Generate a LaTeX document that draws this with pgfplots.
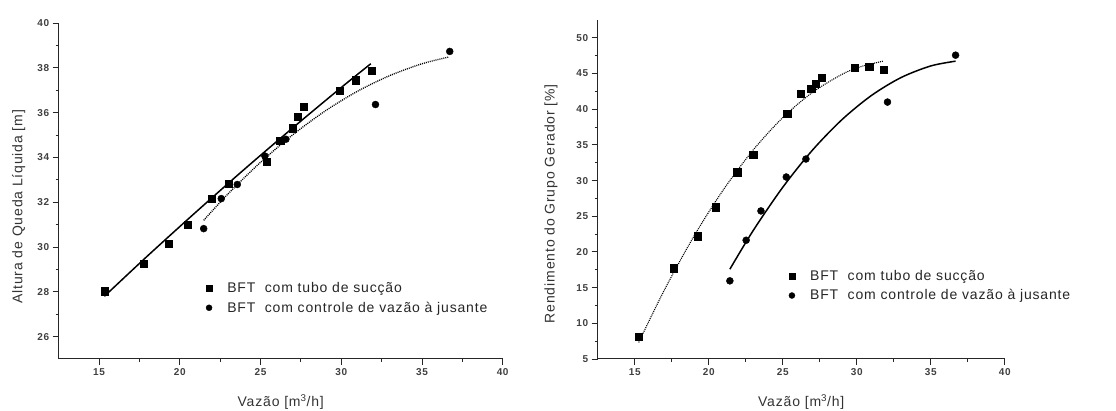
\documentclass[border=0pt]{standalone}
\usepackage{fontspec}
\setmainfont{Liberation Sans}
\usepackage{pgfplots}
\pgfplotsset{compat=1.18}
\newcommand\lblfont{\fontsize{14}{16}\selectfont\addfontfeature{LetterSpace=6}}
\pgfplotsset{
 myax/.style={
  scale only axis,
  axis x line*=bottom, axis y line*=left,
  axis line style={-, line width=1pt, black!85},
  tick align=outside,
  major tick length=6pt, minor tick length=3pt,
  every tick/.style={black!85, line width=0.9pt},
  minor x tick num=1, minor y tick num=1,
  tick label style={font=\fontsize{10}{11}\selectfont\bfseries\addfontfeature{LetterSpace=6}, text=black!75},
  /pgf/number format/assume math mode=true,
  xlabel={Vazão [m\textsuperscript{3}/h]},
  xmin=12.5, xmax=40, xtick={15,20,...,40},
  legend style={draw=none, fill=none, font=\lblfont, row sep=4pt, text=black!85},
  legend cell align=left,
  legend image code/.code={\path (-4pt,0) (16pt,0); \draw[##1, mark size=3pt] plot coordinates {(0pt,0pt)};},
 },
 sq/.style={only marks, mark=square*, mark size=3.6pt, black},
 ci/.style={only marks, mark=*, mark size=3.5pt, black},
 fitsolid/.style={no marks, black, line width=1.5pt, smooth},
 fitdot/.style={no marks, black, line width=1.3pt, smooth, dash pattern=on 1pt off 1pt},
}
\begin{document}
\begin{tikzpicture}
\useasboundingbox (0,0) rectangle (1116pt,411pt);
\begin{axis}[myax,
  at={(58.7pt,52pt)}, anchor=south west,
  width=444pt, height=336pt,
  ymin=25, ymax=40, ytick={26,28,...,40},
  ylabel={Altura de Queda Líquida [m]},
  every axis y label/.style={at={(axis description cs:-0.09,0.453)}, rotate=90, anchor=center, font=\lblfont, text=black!80},
  every axis x label/.style={at={(axis description cs:0.5,-0.128)}, anchor=center, font=\lblfont, text=black!80},
  legend style={at={(axis description cs:0.322,0.241)}, anchor=north west},
]
\addplot[sq] coordinates {(15.33,28.03)(17.74,29.25)(19.33,30.16)(20.51,31.01)(21.99,32.16)(23.04,32.82)(25.38,33.79)(26.22,34.73)(26.98,35.30)(27.29,35.82)(27.66,36.27)(29.89,36.96)(30.88,37.45)(31.89,37.88)};
\addlegendentry{BFT\ \ com tubo de sucção}
\addplot[ci] coordinates {(21.48,30.82)(22.57,32.16)(23.56,32.79)(25.27,34.06)(26.57,34.81)(32.12,36.36)(36.72,38.73)};
\addlegendentry{BFT\ \ com controle de vazão à jusante}
\addplot[fitsolid, forget plot] coordinates {(15.33,27.80)(18,29.60)(21,31.56)(24,33.47)(27,35.32)(30,37.12)(31.83,38.18)};
\addplot[fitdot, forget plot] coordinates {(21.48,31.19)(23,32.38)(25,33.78)(27,35.01)(29,36.07)(31,36.95)(33,37.65)(35,38.18)(36.66,38.48)};
\end{axis}
\begin{axis}[myax,
  at={(597.7pt,52pt)}, anchor=south west,
  width=407pt, height=339pt,
  ymin=5, ymax=52.5, ytick={5,10,...,50},
  ylabel={Rendimento do Grupo Gerador [\%]},
  every axis y label/.style={at={(axis description cs:-0.115,0.458)}, rotate=90, anchor=center, font=\lblfont, text=black!80},
  every axis x label/.style={at={(axis description cs:0.5,-0.127)}, anchor=center, font=\lblfont, text=black!80},
  legend style={at={(axis description cs:0.459,0.275)}, anchor=north west},
]
\addplot[sq] coordinates {(15.27,8.12)(17.66,17.72)(19.26,22.20)(20.46,26.26)(21.93,31.16)(23.01,33.68)(25.31,39.32)(26.19,42.21)(26.93,42.86)(27.25,43.61)(27.63,44.40)(29.87,45.80)(30.84,45.94)(31.85,45.48)};
\addlegendentry{BFT\ \ com tubo de sucção}
\addplot[ci] coordinates {(21.43,15.95)(22.53,21.64)(23.53,25.75)(25.24,30.50)(26.57,33.02)(32.08,41.00)(36.68,47.57)};
\addlegendentry{BFT\ \ com controle de vazão à jusante}
\addplot[fitdot, line width=1.1pt, forget plot] coordinates {(15.27,7.32)(17,14.65)(19,22.20)(21,28.74)(23,34.27)(25,38.81)(27,42.34)(29,44.88)(30.27,45.96)(31.78,46.73)};
\addplot[fitsolid, forget plot] coordinates {(21.43,17.58)(23,22.98)(25,29.05)(27,34.24)(29,38.53)(31,41.93)(33,44.44)(35,46.06)(36.68,46.73)};
\end{axis}
\end{tikzpicture}
\end{document}
